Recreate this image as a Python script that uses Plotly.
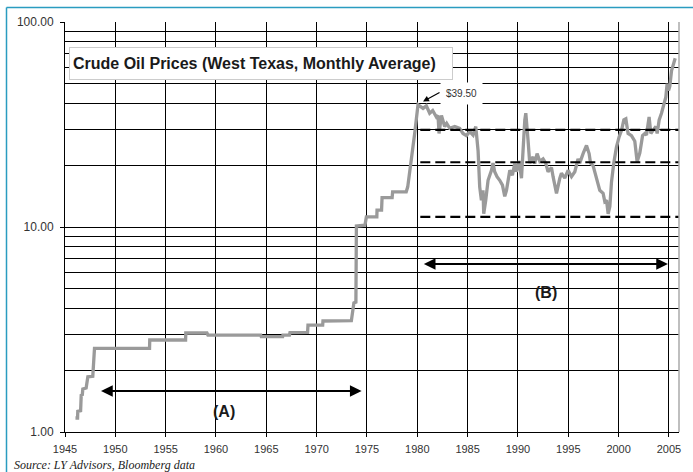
import math
import plotly.graph_objects as go

# ---- data (year, WTI monthly average, $) ----
years = [
    1946.04, 1946.25, 1946.27, 1946.55, 1946.61, 1946.72, 1946.77, 1947.10, 1947.27, 1947.76, 1947.93,
    1953.40, 1953.42, 1956.98, 1957.00, 1959.10, 1959.20, 1964.45, 1964.50, 1966.62, 1966.65,
    1967.30, 1967.35, 1969.10, 1969.14, 1970.60, 1970.63, 1973.45, 1973.70, 1973.90, 1973.95,
    1974.80, 1974.94, 1975.98, 1976.00, 1976.45, 1976.50, 1977.50, 1977.55, 1978.90, 1979.05,
    1979.41, 1979.74, 1980.07, 1980.57, 1980.90, 1981.23, 1981.53, 1981.90, 1982.06, 1982.16,
    1982.40, 1982.72, 1982.92, 1983.22, 1983.72, 1984.21, 1984.54, 1984.88, 1985.21, 1985.54,
    1985.81, 1986.04, 1986.20, 1986.37, 1986.53, 1986.60, 1986.80, 1987.03, 1987.37, 1987.52,
    1987.69, 1987.92, 1988.19, 1988.46, 1988.69, 1988.86, 1989.19, 1989.45, 1989.68, 1989.85,
    1990.11, 1990.35, 1990.68, 1990.78, 1991.00, 1991.17, 1991.50, 1991.67, 1991.90, 1992.17,
    1992.50, 1992.76, 1992.99, 1993.33, 1993.49, 1993.83, 1994.16, 1994.32, 1994.65, 1994.98,
    1995.32, 1995.65, 1995.97, 1996.14, 1996.47, 1996.81, 1997.07, 1997.21, 1997.47, 1997.80,
    1998.13, 1998.46, 1998.63, 1998.80, 1998.96, 1999.13, 1999.29, 1999.52, 1999.79, 2000.05,
    2000.29, 2000.52, 2000.72, 2000.94, 2001.28, 2001.61, 2001.84, 2002.11, 2002.38, 2002.61,
    2002.77, 2003.03, 2003.20, 2003.43, 2003.70, 2003.83, 2004.03, 2004.26, 2004.49, 2004.69,
    2004.82, 2004.96, 2005.09, 2005.26, 2005.42, 2005.62,
]
prices = [
    1.17, 1.17, 1.26, 1.27, 1.51, 1.52, 1.62, 1.64, 1.86, 1.87, 2.56,
    2.56, 2.81, 2.81, 3.04, 3.04, 2.97, 2.97, 2.92, 2.92, 2.97,
    2.97, 3.05, 3.06, 3.32, 3.32, 3.48, 3.49, 4.26, 4.30, 10.1,
    10.2, 11.2, 11.2, 12.1, 12.1, 13.9, 13.9, 14.85, 14.85, 15.7,
    21.0, 28.6, 39.5, 37.9, 39.0, 35.9, 37.0, 34.4, 35.0, 28.6,
    35.0, 30.9, 32.0, 30.3, 30.9, 30.3, 28.6, 27.9, 29.2, 28.1,
    30.9, 23.5, 15.7, 13.5, 15.1, 11.6, 13.5, 16.9, 18.9, 20.5,
    18.6, 17.6, 16.9, 16.0, 14.1, 15.1, 18.9, 17.9, 20.4, 18.6,
    21.0, 17.3, 33.3, 35.9, 26.6, 20.5, 22.0, 20.4, 22.8, 20.9,
    21.5, 20.5, 18.6, 19.5, 17.6, 14.6, 17.3, 18.3, 17.3, 18.9,
    17.6, 18.6, 21.5, 20.5, 22.8, 25.0, 22.8, 20.5, 19.9, 17.6,
    15.1, 14.6, 13.3, 13.5, 11.6, 12.6, 16.5, 20.5, 24.6, 27.5,
    29.6, 33.3, 33.7, 28.6, 27.9, 26.2, 20.8, 23.0, 27.9, 28.6,
    28.1, 34.4, 28.6, 29.6, 30.9, 28.6, 33.3, 35.9, 39.4, 43.0,
    50.0, 46.3, 48.6, 58.0, 61.5, 66.6,
]

# trading-range reference levels (dashed)
range_levels = [29.8, 20.7, 11.2]
range_start = 1980.3
range_end = 2006.0

# x / y ticks
x_ticks = list(range(1945, 2010, 5))
y_ticks = [1, 10, 100]
y_tick_text = ["1.00", "10.00", "100.00"]
y_minor = [2, 3, 4, 5, 6, 7, 8, 9, 20, 30, 40, 50, 60, 70, 80, 90]

# annotations
peak_label = "$39.50"
peak_year, peak_value = 1980.57, 40.9
peak_text_year, peak_text_value = 1984.4, 44.9
arrow_a = (1948.43, 1974.47, 1.585)
arrow_b = (1980.5, 2004.9, 6.6)
label_a = ("(A)", 1960.8, 1.256)
label_b = ("(B)", 1992.8, 4.77)
title_text = "Crude Oil Prices (West Texas, Monthly Average)"
source_text = "Source: LY Advisors, Bloomberg data"

FONT = "Liberation Sans, Arial, sans-serif"

fig = go.Figure()
fig.add_trace(go.Scatter(x=years, y=prices, mode="lines",
                         line=dict(color="#9a9a9a", width=3.3),
                         hoverinfo="skip", showlegend=False))
for lv in range_levels:
    fig.add_trace(go.Scatter(x=[range_start, range_end], y=[lv, lv], mode="lines",
                             line=dict(color="black", width=2.2, dash="10px,5px"),
                             hoverinfo="skip", showlegend=False))

L, R, T, B = 65, 14, 22, 40
W, H = 693, 472
pw, ph = W - L - R, H - T - B


def px_x(p):
    return (p - L) / pw


def px_y(p):
    return (H - B - p) / ph


annotations = []
# title box
annotations.append(dict(text="<b>%s</b>" % title_text, xref="paper", yref="paper",
                        x=px_x(69), y=px_y(47), xanchor="left", yanchor="top",
                        showarrow=False, align="left", width=376, height=25,
                        bgcolor="white", bordercolor="#cccccc", borderwidth=1, borderpad=3,
                        font=dict(family=FONT, size=16, color="#1a1a1a")))
# double arrows
for (x0, x1, v) in (arrow_a, arrow_b):
    annotations.append(dict(x=x1, y=math.log10(v), ax=x0, ay=math.log10(v),
                            xref="x", yref="y", axref="x", ayref="y", text="",
                            showarrow=True, arrowhead=2, arrowside="end+start",
                            arrowsize=1.3, arrowwidth=1.8, arrowcolor="black"))
for (t, xx, v) in (label_a, label_b):
    annotations.append(dict(x=xx, y=math.log10(v), xref="x", yref="y", text="<b>%s</b>" % t,
                            showarrow=False, font=dict(family=FONT, size=16, color="#1a1a1a")))
# peak label
annotations.append(dict(x=peak_text_year, y=math.log10(peak_text_value), xref="x", yref="y",
                        text=peak_label, showarrow=False, bgcolor="white", borderpad=5,
                        font=dict(family=FONT, size=10, color="#333333")))
annotations.append(dict(x=peak_year, y=math.log10(peak_value), xref="x", yref="y", text="",
                        showarrow=True, ax=18, ay=-10, arrowhead=2, arrowsize=1,
                        arrowwidth=1.2, arrowcolor="black"))
# source
annotations.append(dict(text="<i>%s</i>" % source_text, xref="paper", yref="paper",
                        x=px_x(12), y=px_y(465), xanchor="left", yanchor="middle",
                        showarrow=False,
                        font=dict(family="Liberation Serif, Times New Roman, serif", size=12,
                                  color="#222222")))

shapes = [
    # right border of plot area
    dict(type="line", xref="paper", yref="paper", x0=1, x1=1, y0=0, y1=1,
         line=dict(color="#aaaaaa", width=1.5)),
    # teal frame (left and top)
    dict(type="line", xref="paper", yref="paper", x0=px_x(6.5), x1=px_x(6.5),
         y0=px_y(7.5), y1=px_y(472), line=dict(color="#2a9cc0", width=1.5)),
    dict(type="line", xref="paper", yref="paper", x0=px_x(6.5), x1=px_x(693),
         y0=px_y(7.5), y1=px_y(7.5), line=dict(color="#2a9cc0", width=1.5)),
]

fig.update_layout(
    width=W, height=H, margin=dict(l=L, r=R, t=T, b=B, pad=0),
    paper_bgcolor="white", plot_bgcolor="white",
    font=dict(family=FONT, color="#333333"),
    annotations=annotations, shapes=shapes,
    xaxis=dict(range=[1945, range_end], tickmode="array", tickvals=x_ticks,
               showgrid=True, gridcolor="black", gridwidth=1,
               showline=True, linecolor="black", linewidth=1,
               ticks="outside", ticklen=4, tickcolor="black",
               ticklabelstandoff=3,
               tickfont=dict(size=11, color="#333333"), zeroline=False),
    yaxis=dict(type="log", range=[0, 2], tickmode="array", tickvals=y_ticks,
               ticktext=y_tick_text, showgrid=True, gridcolor="black", gridwidth=1,
               showline=True, linecolor="black", linewidth=1,
               ticks="outside", ticklen=4, tickcolor="black",
               ticklabelstandoff=4,
               tickfont=dict(size=12, color="#333333"), zeroline=False,
               minor=dict(tickmode="array", tickvals=y_minor, showgrid=True,
                          gridcolor="black", gridwidth=1, ticks="")),
)

fig.write_html("out.html", config={"displayModeBar": False},
               post_script="document.body.style.margin='0';document.body.style.overflow='hidden';")
